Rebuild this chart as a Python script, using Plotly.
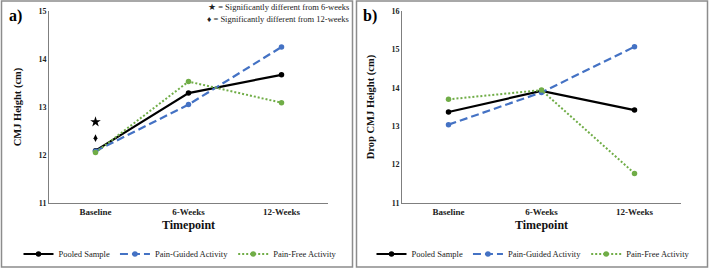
import plotly.graph_objects as go

categories = ["Baseline", "6-Weeks", "12-Weeks"]
series_names = ["Pooled Sample", "Pain-Guided Activity", "Pain-Free Activity"]

# Panel a: CMJ Height (cm)
cmj_pooled = [12.09, 13.29, 13.67]
cmj_guided = [12.08, 13.05, 14.25]
cmj_free = [12.05, 13.53, 13.09]
sig_star_a = [12.69]
sig_diamond_a = [12.35]

# Panel b: Drop CMJ Height (cm)
drop_pooled = [13.37, 13.92, 13.42]
drop_guided = [13.04, 13.88, 15.07]
drop_free = [13.70, 13.94, 11.77]

colors = ["#000000", "#4472C4", "#70AD47"]
dashes = ["solid", "8px,4px", "2px,2px"]
widths = [2.2, 2.2, 2.0]

W, H = 709, 269
def px(x):
    return x / W
def py(y):
    return 1 - y / H

fig = go.Figure()

panels = [
    ("x", "y", [cmj_pooled, cmj_guided, cmj_free], "legend"),
    ("x2", "y2", [drop_pooled, drop_guided, drop_free], "legend2"),
]
for xa, ya, data, leg in panels:
    for name, vals, c, d, w in zip(series_names, data, colors, dashes, widths):
        fig.add_trace(go.Scatter(
            x=categories, y=vals, name=name, mode="lines+markers",
            line=dict(color=c, width=w, dash=d),
            marker=dict(color=c, size=5.5, symbol="circle"),
            xaxis=xa, yaxis=ya, legend=leg,
        ))

fig.add_trace(go.Scatter(x=[categories[0]], y=sig_star_a, mode="markers",
                         marker=dict(symbol="star", size=8, color="black"),
                         showlegend=False, xaxis="x", yaxis="y"))
fig.add_trace(go.Scatter(x=[categories[0]], y=sig_diamond_a, mode="markers",
                         marker=dict(symbol="diamond-tall", size=5.5, color="black"),
                         showlegend=False, xaxis="x", yaxis="y"))

serif = "Liberation Serif"
tickfont = dict(family=serif, size=8, color="#222", weight="bold")
xtickfont = dict(family=serif, size=9, color="#222", weight="bold")
axis_common = dict(showgrid=False, zeroline=False, showline=True, automargin=False,
                   linecolor="#7f7f7f", linewidth=1, ticks="")
ydom = [py(203), py(11)]
titlefont = dict(family=serif, size=12, color="#111", weight="bold")
ytitlefont = dict(family=serif, size=10.5, color="#111", weight="bold")
legfont = dict(family=serif, size=8.5, color="#222")

fig.update_layout(
    width=W, height=H,
    margin=dict(l=0, r=0, t=0, b=0),
    paper_bgcolor="white", plot_bgcolor="white",
    xaxis=dict(domain=[px(49), px(328)], anchor="y", range=[-0.5, 2.5],
               title=dict(text="Timepoint", font=titlefont, standoff=4),
               tickfont=xtickfont, **axis_common),
    yaxis=dict(domain=ydom, anchor="x", range=[11, 15], dtick=1,
               title=dict(text="CMJ Height (cm)", font=ytitlefont, standoff=14),
               tickfont=tickfont, **axis_common),
    xaxis2=dict(domain=[px(402), px(681)], anchor="y2", range=[-0.5, 2.5],
                title=dict(text="Timepoint", font=titlefont, standoff=4),
                tickfont=xtickfont, **axis_common),
    yaxis2=dict(domain=ydom, anchor="x2", range=[11, 16], dtick=1,
                title=dict(text="Drop CMJ Height (cm)", font=ytitlefont, standoff=14),
                tickfont=tickfont, **axis_common),
    legend=dict(orientation="h", x=px(180), xanchor="center", y=py(254), yanchor="middle",
                font=legfont, itemwidth=30, bgcolor="rgba(0,0,0,0)"),
    legend2=dict(orientation="h", x=px(533), xanchor="center", y=py(254), yanchor="middle",
                 font=legfont, itemwidth=30, bgcolor="rgba(0,0,0,0)"),
    shapes=[
        dict(type="rect", xref="paper", yref="paper", x0=px(1.5), x1=px(352.5), y0=py(267), y1=py(1),
             line=dict(color="#8c8c8c", width=1.5)),
        dict(type="rect", xref="paper", yref="paper", x0=px(356.5), x1=px(707.5), y0=py(267), y1=py(1),
             line=dict(color="#8c8c8c", width=1.5)),
    ],
    annotations=[
        dict(text="<b>a)</b>", x=px(7), y=py(16), xref="paper", yref="paper", xanchor="left", yanchor="middle",
             showarrow=False, font=dict(family=serif, size=16, color="black")),
        dict(text="<b>b)</b>", x=px(361), y=py(16), xref="paper", yref="paper", xanchor="left", yanchor="middle",
             showarrow=False, font=dict(family=serif, size=16, color="black")),
        dict(text="★ = Significantly different from 6-weeks", x=px(351), y=py(7), xref="paper", yref="paper",
             xanchor="right", yanchor="middle", showarrow=False, font=dict(family=serif, size=8.5, color="#222")),
        dict(text="♦ = Significantly different from 12-weeks", x=px(351), y=py(19), xref="paper", yref="paper",
             xanchor="right", yanchor="middle", showarrow=False, font=dict(family=serif, size=8.5, color="#222")),
    ],
)

fig.write_html("out.html", config={"displayModeBar": False},
               post_script="document.body.style.margin='0px';")
